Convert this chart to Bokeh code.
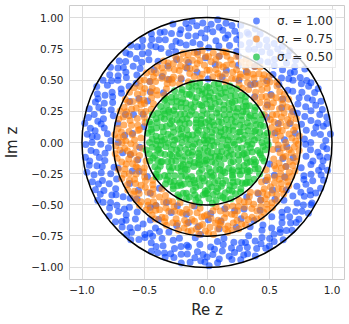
import numpy as np
from bokeh.plotting import figure
from bokeh.models import Range1d, FixedTicker, Legend, LegendItem, CustomJSTickFormatter
from bokeh.embed import file_html
from bokeh.resources import INLINE

# ---------------- data ----------------
sigmas = [1.00, 0.75, 0.50]
series_colors = ["#023eff", "#ff7c00", "#1ac938"]
series_alpha = [0.6, 0.6, 0.7]
x_ticks = [-1.0, -0.5, 0.0, 0.5, 1.0]
x_tick_labels = ["−1.0", "−0.5", "0.0", "0.5", "1.0"]
y_ticks = [-1.0, -0.75, -0.5, -0.25, 0.0, 0.25, 0.5, 0.75, 1.0]
y_tick_labels = ["−1.00", "−0.75", "−0.50", "−0.25", "0.00", "0.25", "0.50", "0.75", "1.00"]
x_title = "Re z"
y_title = "Im z"

# sample points, polar form (angle in degrees, modulus)
blue_deg = [
    0,1,2,4,4,5,7,8,8,9, 10,11,12,12,14,15,16,17,18,19, 20,20,22,23,24,25,26,26,28,29,
    30,31,32,32,33,35,36,37,38,39, 40,41,41,43,44,45,46,47,48,49, 50,51,52,53,53,55,56,57,58,59,
    60,60,62,63,64,65,66,67,67,69, 70,71,72,73,74,74,76,77,78,79, 80,81,82,83,84,85,85,87,88,89,
    90,91,92,93,94,95,96,97,98,99, 100,100,102,103,104,105,106,107,108,109, 110,111,112,113,113,115,116,117,118,118,
    120,121,122,123,124,125,126,126,128,129, 130,131,132,132,134,135,136,137,138,139, 140,141,142,143,144,145,145,147,148,149,
    150,150,152,153,154,155,156,157,158,159, 160,161,162,163,164,164,166,167,168,169, 170,171,172,173,174,175,176,177,177,179,
    180,181,181,183,184,185,186,187,188,189, 190,191,192,193,194,195,196,196,198,199, 200,201,202,203,203,205,206,207,208,209,
    210,210,212,213,214,215,216,217,218,219, 220,221,222,223,224,225,225,227,228,229, 230,231,232,232,234,235,236,237,238,239,
    240,241,242,243,244,245,246,247,247,249, 250,251,252,253,254,254,256,257,258,259, 260,260,262,263,264,265,266,267,268,269,
    270,271,272,273,274,275,276,276,278,279, 280,281,282,283,284,285,286,287,288,289, 290,291,291,293,294,295,296,297,298,299,
    300,301,302,303,304,304,306,307,308,309, 310,311,312,313,314,315,316,317,318,318, 320,320,322,323,324,325,326,327,328,329,
    330,331,332,333,334,335,335,337,338,339, 340,341,342,343,344,345,346,347,348,348, 350,351,352,353,353,355,356,357,358,359,
    2,6,8,13,15,20,23,25,30,32, 37,39,44,46,51,53,58,61,63,68, 70,75,77,82,84,89,91,96,98,103,
    105,110,112,117,121,124,126,131,133,138, 140,145,147,152,156,159,161,166,168,173, 175,180,184,187,189,194,196,201,203,208,
    210,215,219,222,224,229,231,236,238,243, 245,250,254,257,259,264,266,271,273,278, 280,285,289,292,294,299,301,306,308,313,
    315,320,324,327,329,334,336,341,343,348, 350,355,357,
]
blue_r = [
    .83,.95,.78,.91,.99,.86,.80,.94,.88,.97, .90,.77,.98,.85,.93,.81,.96,.87,.76,.92, .84,.97,.91,.79,.88,.95,.82,.99,.86,.93,
    .96,.80,.89,.94,.77,.91,.85,.98,.83,.90, .87,.93,.79,.97,.84,.90,.76,.95,.99,.82, .92,.86,.98,.81,.94,.88,.96,.78,.91,.85,
    .79,.95,.89,.84,.97,.92,.82,.99,.87,.93, .94,.83,.77,.90,.98,.86,.92,.80,.96,.88, .85,.97,.91,.78,.93,.99,.82,.89,.95,.76,
    .91,.84,.96,.88,.79,.94,.86,.98,.81,.93, .97,.87,.80,.93,.90,.83,.99,.85,.92,.77, .82,.95,.89,.78,.96,.91,.84,.98,.87,.94,
    .90,.76,.97,.86,.93,.81,.95,.88,.99,.83, .88,.94,.80,.97,.85,.92,.78,.96,.90,.86, .93,.83,.98,.89,.77,.95,.87,.91,.81,.97,
    .79,.92,.86,.99,.84,.90,.96,.82,.94,.88, .95,.81,.91,.87,.98,.78,.93,.85,.97,.89, .86,.99,.83,.94,.90,.80,.96,.88,.92,.77,
    .92,.85,.97,.79,.93,.89,.82,.98,.87,.95, .83,.96,.90,.86,.99,.77,.94,.88,.81,.97, .89,.93,.78,.97,.85,.91,.95,.82,.99,.87,
    .96,.84,.91,.80,.94,.88,.76,.98,.90,.85, .81,.97,.87,.93,.90,.79,.96,.84,.92,.98, .94,.88,.99,.83,.77,.95,.89,.91,.86,.80,
    .87,.92,.81,.98,.93,.85,.97,.78,.90,.95, .98,.83,.94,.89,.80,.96,.86,.92,.99,.84, .85,.91,.97,.77,.93,.88,.82,.95,.90,.96,
    .92,.99,.84,.90,.86,.97,.80,.94,.88,.83, .78,.93,.96,.87,.91,.83,.98,.89,.95,.85, .95,.86,.90,.99,.82,.94,.88,.76,.92,.97,
    .88,.97,.83,.92,.96,.80,.91,.86,.99,.93, .91,.79,.95,.88,.98,.85,.93,.82,.96,.89, .84,.96,.90,.77,.94,.99,.87,.92,.81,.97,
    .97,.89,.85,.93,.80,.91,.96,.86,.98,.83, .90,.82,.98,.87,.95,.78,.92,.99,.85,.94, .86,.94,.80,.97,.91,.89,.83,.96,.93,.79,
    .62,.71,.55,.68,.59,.73,.52,.66,.70,.57, .64,.74,.53,.69,.61,.58,.72,.65,.56,.67, .74,.60,.54,.70,.63,.51,.68,.73,.57,.66,
    .62,.71,.55,.69,.59,.64,.72,.53,.67,.61, .74,.58,.65,.70,.56,.63,.69,.52,.73,.60, .66,.71,.54,.68,.62,.57,.74,.64,.59,.70,
    .55,.67,.72,.61,.53,.69,.65,.58,.73,.63, .56,.71,.60,.66,.52,.68,.74,.62,.57,.70, .64,.55,.72,.59,.67,.61,.73,.54,.69,.63,
    .58,.71,.65,.56,.74,.60,.68,.53,.66,.62, .70,.57,.64,
]
orange_deg = [
    0,1,2,3,4,5,6,7,8,9,9, 10,11,12,13,14,15,15,16,17,18,19, 20,21,22,22,23,24,25,26,27,28,29,
    30,31,31,32,33,34,35,36,37,38,39, 40,41,42,43,44,44,45,46,47,48,49, 50,51,52,53,54,55,56,56,57,58,59,
    60,61,62,63,63,64,65,66,67,68,69, 70,71,72,73,74,75,76,77,78,78,79, 80,81,81,82,83,84,85,86,87,88,89,
    90,91,92,93,94,95,96,96,97,98,99, 100,101,102,103,104,104,105,106,107,108,109, 110,111,112,113,114,115,116,117,117,118,119,
    120,121,122,122,123,124,125,126,127,128,129, 130,131,132,133,134,135,135,136,137,138,139, 140,141,142,143,144,145,146,147,148,148,149,
    150,151,152,153,153,154,155,156,157,158,159, 160,161,161,162,163,164,165,166,167,168,169, 170,171,172,173,174,175,176,176,177,178,179,
    180,181,182,183,184,185,185,186,187,188,189, 190,191,192,193,194,195,196,197,197,198,199, 200,201,202,202,203,204,205,206,207,208,209,
    210,211,212,213,214,215,215,216,217,218,219, 220,221,222,223,224,225,226,227,228,228,229, 230,231,232,233,233,234,235,236,237,238,239,
    240,241,241,242,243,244,245,246,247,248,249, 250,251,252,253,254,255,256,256,257,258,259, 260,261,262,263,264,265,265,266,267,268,269,
    270,271,272,273,274,275,276,277,278,278,279, 280,281,282,283,283,284,285,286,287,288,289, 290,291,291,292,293,294,295,296,297,298,299,
    300,301,302,303,304,305,306,306,307,308,309, 310,311,312,313,314,315,315,316,317,318,319, 320,321,322,323,324,325,326,327,328,328,329,
    330,331,332,333,333,334,335,336,337,338,339, 340,341,341,342,343,344,345,346,347,348,349, 350,351,352,353,354,355,355,356,357,358,359,
]
orange_r = [
    .63,.71,.55,.68,.74,.59,.66,.52,.70,.61,.57, .72,.58,.65,.53,.69,.74,.61,.67,.56,.71,.63, .54,.66,.73,.60,.57,.70,.64,.51,.68,.74,.59,
    .69,.62,.55,.73,.66,.58,.71,.64,.53,.60,.72, .57,.74,.65,.52,.70,.61,.67,.56,.73,.63,.68, .71,.60,.54,.69,.64,.74,.58,.66,.52,.72,.62,
    .65,.53,.72,.59,.68,.61,.74,.56,.70,.63,.55, .60,.73,.66,.51,.69,.57,.64,.71,.62,.74,.54, .74,.63,.56,.70,.59,.67,.53,.72,.65,.58,.69,
    .58,.69,.62,.74,.55,.66,.71,.52,.64,.73,.60, .67,.54,.72,.61,.68,.57,.74,.63,.51,.70,.65, .73,.62,.56,.69,.64,.52,.71,.59,.67,.74,.58,
    .55,.70,.66,.60,.73,.57,.63,.69,.54,.72,.68, .64,.74,.51,.67,.58,.71,.62,.55,.73,.60,.66, .70,.57,.65,.73,.53,.68,.61,.74,.59,.64,.52,
    .61,.68,.74,.55,.71,.63,.58,.66,.72,.54,.69, .74,.59,.66,.52,.70,.64,.73,.57,.62,.68,.55, .56,.72,.63,.69,.60,.74,.53,.67,.71,.58,.65,
    .68,.61,.73,.57,.66,.52,.70,.64,.74,.59,.62, .73,.55,.64,.70,.58,.67,.62,.74,.51,.69,.60, .59,.71,.67,.54,.74,.62,.56,.69,.65,.72,.57,
    .66,.74,.58,.63,.70,.53,.72,.61,.68,.55,.73, .62,.57,.71,.74,.60,.67,.52,.69,.64,.73,.58, .71,.65,.54,.68,.73,.59,.66,.74,.56,.62,.70,
    .55,.69,.63,.72,.58,.74,.61,.53,.70,.66,.60, .69,.60,.74,.56,.65,.71,.58,.67,.52,.73,.63, .72,.64,.57,.70,.53,.67,.74,.60,.66,.59,.71,
    .58,.73,.68,.61,.74,.55,.65,.70,.63,.52,.67, .65,.56,.71,.74,.62,.69,.59,.73,.54,.68,.61, .74,.62,.67,.55,.71,.60,.73,.57,.66,.70,.53,
    .60,.70,.56,.73,.64,.58,.68,.74,.62,.55,.72, .67,.53,.72,.63,.69,.74,.57,.65,.71,.60,.64, .73,.59,.66,.70,.54,.62,.74,.68,.57,.71,.63,
    .56,.68,.74,.61,.65,.72,.52,.69,.64,.73,.59, .70,.63,.57,.74,.66,.60,.71,.55,.68,.73,.62, .64,.72,.59,.68,.53,.74,.66,.61,.70,.57,.73,
]
green_deg = [
    0,2,5,7,9,11,14,16,18,20,23,25,27,29,32,34,36,38,41,43,45,47,50,52,54,56,59,61,63,65,68,70,72,74,77,79,81,83,86,88,
    90,92,95,97,99,101,104,106,108,110,113,115,117,119,122,124,126,128,131,133,135,137,140,142,144,146,149,151,153,155,158,160,162,164,167,169,171,173,176,178,
    180,182,185,187,189,191,194,196,198,200,203,205,207,209,212,214,216,218,221,223,225,227,230,232,234,236,239,241,243,245,248,250,252,254,257,259,261,263,266,268,
    270,272,275,277,279,281,284,286,288,290,293,295,297,299,302,304,306,308,311,313,315,317,320,322,324,326,329,331,333,335,338,340,342,344,347,349,351,353,356,358,
    1,3,6,8,11,13,16,18,21,23,26,28,31,33,36,38,41,43,46,48,51,53,56,58,61,63,66,68,71,73,76,78,81,83,86,88,
    91,93,96,98,101,103,106,108,111,113,116,118,121,123,126,128,131,133,136,138,141,143,146,148,151,153,156,158,161,163,166,168,171,173,176,178,
    181,183,186,188,191,193,196,198,201,203,206,208,211,213,216,218,221,223,226,228,231,233,236,238,241,243,246,248,251,253,256,258,261,263,266,268,
    271,273,276,278,281,283,286,288,291,293,296,298,301,303,306,308,311,313,316,318,321,323,326,328,331,333,336,338,341,343,346,348,351,353,356,358,
    0,4,7,11,14,18,22,25,29,32,36,40,43,47,50,54,58,61,65,68,72,76,79,83,86,90,94,97,101,104,108,112,115,119,122,126,130,133,137,140,
    144,148,151,155,158,162,166,169,173,176,180,184,187,191,194,198,202,205,209,212,216,220,223,227,230,234,238,241,245,248,
    252,256,259,263,266,270,274,277,281,284,288,292,295,299,302,306,310,313,317,320,324,328,331,335,338,342,346,349,353,356,
    3,12,20,29,37,48,55,64,73,81,92,99,108,117,125,136,143,152,161,169,180,187,196,205,213,224,231,240,249,257,268,275,284,293,301,312,319,328,337,345,
]
green_r = [
    .44,.48,.41,.46,.49,.43,.40,.47,.45,.42, .47,.42,.49,.44,.41,.46,.48,.40,.45,.43, .41,.45,.48,.43,.47,.40,.44,.49,.42,.46,
    .49,.43,.46,.41,.45,.48,.42,.47,.40,.44, .45,.40,.43,.48,.42,.46,.49,.44,.47,.41, .42,.47,.45,.40,.49,.44,.41,.46,.43,.48,
    .48,.44,.40,.47,.43,.41,.46,.42,.49,.45, .43,.49,.47,.42,.46,.45,.48,.41,.44,.40, .46,.41,.44,.49,.40,.47,.43,.45,.48,.42,
    .40,.46,.42,.45,.48,.49,.47,.43,.41,.44, .47,.43,.41,.44,.46,.42,.40,.48,.49,.45, .44,.48,.46,.40,.43,.47,.45,.49,.42,.41,
    .41,.45,.49,.42,.47,.40,.44,.46,.48,.43, .49,.42,.44,.47,.41,.48,.46,.40,.43,.45, .45,.47,.43,.48,.40,.41,.49,.44,.46,.42,
    .42,.40,.48,.46,.44,.43,.41,.47,.45,.49,
    .33,.38,.29,.36,.31,.39,.34,.28,.37,.32, .36,.30,.39,.33,.28,.35,.38,.31,.34,.37, .29,.35,.32,.38,.36,.30,.33,.39,.28,.34,
    .38,.32,.36,.29,.34,.37,.31,.35,.39,.30, .31,.37,.34,.39,.30,.33,.28,.36,.32,.38, .35,.29,.38,.31,.37,.34,.39,.30,.36,.33,
    .39,.33,.30,.35,.38,.28,.36,.32,.29,.37, .34,.36,.31,.37,.33,.39,.29,.38,.35,.31, .30,.39,.35,.32,.29,.36,.34,.37,.31,.28,
    .37,.31,.28,.34,.39,.32,.38,.33,.30,.36, .32,.34,.37,.30,.35,.29,.31,.39,.38,.33, .36,.28,.33,.38,.32,.37,.35,.29,.34,.39,
    .28,.38,.35,.33,.31,.30,.37,.34,.36,.32, .39,.35,.29,.36,.38,.34,.30,.31,.33,.37, .28,.35,.32,.36,
    .21,.26,.17,.24,.19,.27,.15,.23,.20,.25, .18,.22,.27,.16,.24,.20,.26,.19,.23,.15, .25,.17,.21,.27,.18,.23,.16,.26,.22,.19,
    .16,.24,.20,.18,.26,.15,.25,.21,.27,.23, .27,.19,.23,.25,.16,.22,.20,.17,.24,.26, .20,.27,.15,.22,.25,.18,.24,.26,.17,.21,
    .24,.16,.26,.20,.23,.27,.19,.22,.15,.18, .19,.25,.22,.15,.17,.26,.21,.24,.27,.16, .23,.18,.24,.26,.21,.16,.27,.15,.19,.25,
    .26,.21,.18,.23,.27,.20,.17,.25,.16,.22,
    .08,.13,.04,.11,.14,.06,.12,.09,.02,.13,.10,.05,.14,.07,.12,.11,.03,.13,.09,.14,
    .06,.10,.12,.01,.14,.08,.11,.13,.05,.10,.14,.07,.12,.09,.13,.04,.11,.14,.06,.12,
]

series = [(blue_deg, blue_r), (orange_deg, orange_r), (green_deg, green_r)]


def to_xy(degs, rs):
    pairs = list(zip(degs, rs))
    a = np.radians([d for d, _ in pairs])
    r = np.array([v for _, v in pairs])
    return r * np.cos(a), r * np.sin(a)


# ---------------- figure ----------------
p = figure(frame_width=275, frame_height=274,
           x_range=Range1d(-1.1, 1.1), y_range=Range1d(-1.1, 1.1),
           output_backend="svg", toolbar_location=None, tools="",
           min_border_left=68, min_border_right=5, min_border_top=5, min_border_bottom=44,
           title=None)
p.background_fill_color = "white"
p.border_fill_color = "white"
p.outline_line_color = "#cccccc"
p.outline_line_width = 1

renderers = []
for (degs, rs), col, al in zip(series, series_colors, series_alpha):
    xs, ys = to_xy(degs, rs)
    r = p.scatter(xs, ys, size=7, marker="circle", fill_color=col, fill_alpha=al,
                  line_color=None)
    renderers.append(r)

p.circle(x=[0.0] * len(sigmas), y=[0.0] * len(sigmas), radius=sigmas,
         fill_color=None, line_color="black", line_width=1.5)

# axes
fmt_code = """
const i = tvals.findIndex((t) => Math.abs(t - tick) < 1e-9);
return i >= 0 ? tlabels[i] : '';
"""
p.xaxis.ticker = FixedTicker(ticks=x_ticks)
p.yaxis.ticker = FixedTicker(ticks=y_ticks)
p.xaxis.formatter = CustomJSTickFormatter(args=dict(tvals=x_ticks, tlabels=x_tick_labels), code=fmt_code)
p.yaxis.formatter = CustomJSTickFormatter(args=dict(tvals=y_ticks, tlabels=y_tick_labels), code=fmt_code)
p.xaxis.axis_label = x_title
p.yaxis.axis_label = y_title
for ax in p.axis:
    ax.axis_line_color = None
    ax.major_tick_in = 0
    ax.major_tick_out = 0
    ax.minor_tick_in = 0
    ax.minor_tick_out = 0
    ax.major_label_text_font = "DejaVu Sans"
    ax.major_label_text_font_size = "10.5px"
    ax.major_label_text_color = "#262626"
    ax.axis_label_text_font = "DejaVu Sans"
    ax.axis_label_text_font_size = "15px"
    ax.axis_label_text_font_style = "normal"
    ax.axis_label_text_color = "#262626"
p.xaxis.major_label_standoff = 6
p.yaxis.major_label_standoff = 6
p.xaxis.axis_label_standoff = 4
p.yaxis.axis_label_standoff = 7
p.grid.grid_line_color = "#dcdcdc"
p.grid.grid_line_width = 1

# legend
items = [LegendItem(label=f"σ. = {s:.2f}", renderers=[r]) for s, r in zip(sigmas, renderers)]
legend = Legend(items=items, location=(170, 211), margin=0, padding=2, spacing=1,
                glyph_height=17, glyph_width=28, label_height=17, label_standoff=7,
                label_text_font="DejaVu Sans", label_text_font_size="12px",
                label_text_color="#262626", background_fill_color="white",
                background_fill_alpha=0.8, border_line_color="#d5d5d5", border_line_width=1)
p.add_layout(legend)

open("out.html", "w").write(file_html(p, INLINE))
